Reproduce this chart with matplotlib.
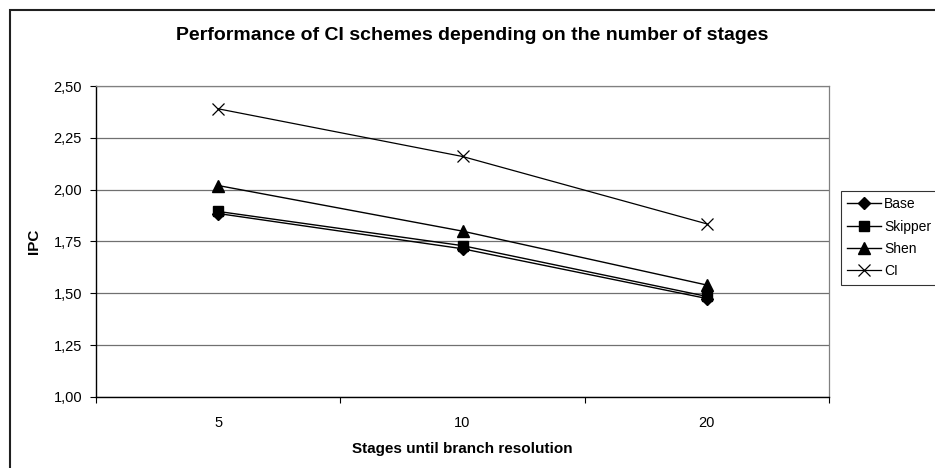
import matplotlib
matplotlib.use('Agg')
import matplotlib.pyplot as plt
from matplotlib.ticker import FuncFormatter, FixedLocator
from matplotlib.patches import Rectangle

plt.rcParams['font.family'] = ['Liberation Sans', 'DejaVu Sans']

# data
stages = ['5', '10', '20']
base = [1.885, 1.715, 1.475]
skipper = [1.895, 1.73, 1.485]
shen = [2.02, 1.80, 1.54]
ci = [2.39, 2.16, 1.835]

W, H = 935, 468
fig = plt.figure(figsize=(W / 100, H / 100), dpi=100)
ax = fig.add_axes([96 / W, 1 - 397 / H, (829 - 96) / W, (397 - 86) / H])

# outer chart border (runs off the right and bottom edge of the image)
fig.patches.append(Rectangle((10 / W, -0.05), 1.0, 1 - 10 / H + 0.05,
                             transform=fig.transFigure, fill=False,
                             edgecolor='#202020', linewidth=1.5))

xs = range(len(stages))
ax.plot(xs, base, color='black', lw=1, marker='D', ms=6.5, label='Base')
ax.plot(xs, skipper, color='black', lw=1, marker='s', ms=7, label='Skipper')
ax.plot(xs, shen, color='black', lw=1, marker='^', ms=8, label='Shen')
ax.plot(xs, ci, color='black', lw=0.9, marker='x', ms=8, mew=0.9, label='CI')

ax.set_xlim(-0.5, 2.5)
ax.set_ylim(1.0, 2.5)
ax.set_yticks([1.0, 1.25, 1.5, 1.75, 2.0, 2.25, 2.5])
ax.yaxis.set_major_formatter(FuncFormatter(lambda v, p: ('%.2f' % v).replace('.', ',')))
ax.set_xticks(list(xs))
ax.set_xticklabels(stages)
ax.xaxis.set_minor_locator(FixedLocator([-0.5, 0.5, 1.5, 2.5]))
ax.tick_params(axis='x', which='major', length=0, pad=14, labelsize=10.5)
ax.tick_params(axis='x', which='minor', length=4, width=0.8, direction='out')
ax.tick_params(axis='y', length=4, width=0.8, direction='out', labelsize=10.5, pad=6)

ax.grid(axis='y', color='#707070', lw=0.9)
ax.set_axisbelow(True)
for s in ['top', 'right']:
    ax.spines[s].set_color('#808080')
    ax.spines[s].set_linewidth(0.9)
for s in ['left', 'bottom']:
    ax.spines[s].set_color('black')
    ax.spines[s].set_linewidth(1)

ax.set_xlabel('Stages until branch resolution', fontsize=11, fontweight='bold', labelpad=8)
ax.set_ylabel('IPC', fontsize=11, fontweight='bold', labelpad=9)
fig.text(472 / W, 1 - 35 / H, 'Performance of CI schemes depending on the number of stages',
         ha='center', va='center', fontsize=14, fontweight='bold')

leg = ax.legend(loc='upper left', bbox_to_anchor=(841 / W, 1 - 191 / H),
                bbox_transform=fig.transFigure, frameon=True, fancybox=False,
                edgecolor='black', fontsize=10, handlelength=2.4, handletextpad=0.25,
                borderpad=0.45, labelspacing=0.6, borderaxespad=0)
leg.get_frame().set_linewidth(0.8)

fig.savefig('out.png', dpi=100)
